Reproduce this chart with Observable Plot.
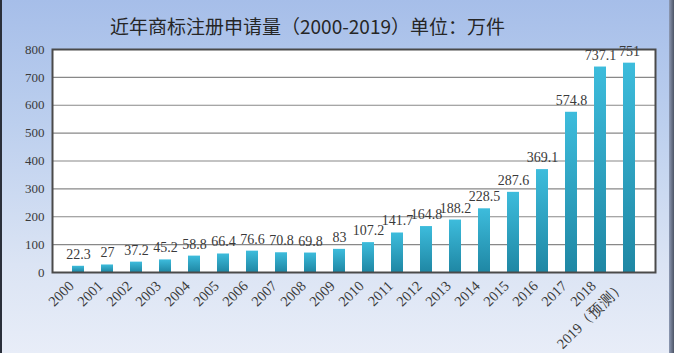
<!DOCTYPE html>
<html><head><meta charset="utf-8">
<script src="https://cdn.jsdelivr.net/npm/d3@7"></script>
<script src="https://cdn.jsdelivr.net/npm/@observablehq/plot@0.6"></script>
<style>
html,body{margin:0;padding:0;}
body{width:674px;height:353px;overflow:hidden;position:relative;background:linear-gradient(to bottom,#a6bee9 0%,#bccfee 35%,#dbe4f4 75%,#e8edf8 100%);}
#lb{position:absolute;left:0;top:0;width:2px;height:353px;background:#2a2f3a;}
#rb{position:absolute;right:0;top:0;width:5px;height:353px;background:linear-gradient(to right,#8e9ab4,#4d5566);}
#chart{position:absolute;left:0;top:0;}
</style></head><body><div id="lb"></div><div id="rb"></div><div id="chart"></div>
<script>
const years = ["2000","2001","2002","2003","2004","2005","2006","2007","2008","2009","2010","2011","2012","2013","2014","2015","2016","2017","2018","2019（预测）"];
const values = [22.3,27,37.2,45.2,58.8,66.4,76.6,70.8,69.8,83,107.2,141.7,164.8,188.2,228.5,287.6,369.1,574.8,737.1,751];
const valueLabels = ["22.3","27","37.2","45.2","58.8","66.4","76.6","70.8","69.8","83","107.2","141.7","164.8","188.2","228.5","287.6","369.1","574.8","737.1","751"];
const yTicks = [0,100,200,300,400,500,600,700,800];
const gridTicks = [100,200,300,400,500,600,700];
const title = "近年商标注册申请量（2000-2019）单位：万件";

const data = years.map((y,i)=>({year:y, value:values[i], label:valueLabels[i]}));

const plot = Plot.plot({
  width:674, height:353,
  marginLeft:52, marginRight:19, marginTop:49, marginBottom:81,
  style:{background:"transparent", fontFamily:"'Liberation Serif', serif", color:"#333", overflow:"visible"},
  x:{domain:years, padding:0.6, label:null},
  y:{domain:[0,800], label:null},
  marks:[
    Plot.frame({fill:"white", stroke:null}),
    Plot.ruleY(gridTicks, {stroke:"#888", strokeWidth:1.2}),
    Plot.barY(data, {x:"year", y:"value", fill:"url(#barGrad)"}),
    Plot.text(data, {x:"year", y:"value", text:"label", dy:-12, fontSize:14, fill:"#3a3a3a", fontFamily:"'Liberation Serif', serif"}),
    Plot.frame({stroke:"#4a4a4a", strokeWidth:2}),
    Plot.axisX({tickSize:0, tickPadding:10, tickRotate:-45, fontSize:14.5, fill:"#3a3a3a", label:null, dx:-7, dy:1, fontFamily:"'Liberation Serif', serif"}),
    Plot.axisY(yTicks, {tickSize:0, tickPadding:8, fontSize:13, fill:"#3a3a3a", label:null, fontFamily:"'Liberation Serif', serif"}),
    Plot.text([title], {frameAnchor:"top-left", dx:255, dy:-29, textAnchor:"middle", fontSize:19, fill:"#262626", fontFamily:"'Noto Sans CJK SC', sans-serif"})
  ]
});

const svg = d3.select(plot);
const defs = svg.insert("defs", ":first-child");
const g = defs.append("linearGradient").attr("id","barGrad").attr("x1","0").attr("y1","0").attr("x2","0").attr("y2","1");
g.append("stop").attr("offset","0%").attr("stop-color","#3dbcdc");
g.append("stop").attr("offset","100%").attr("stop-color","#1f87a4");
document.getElementById("chart").appendChild(plot);
</script></body></html>
